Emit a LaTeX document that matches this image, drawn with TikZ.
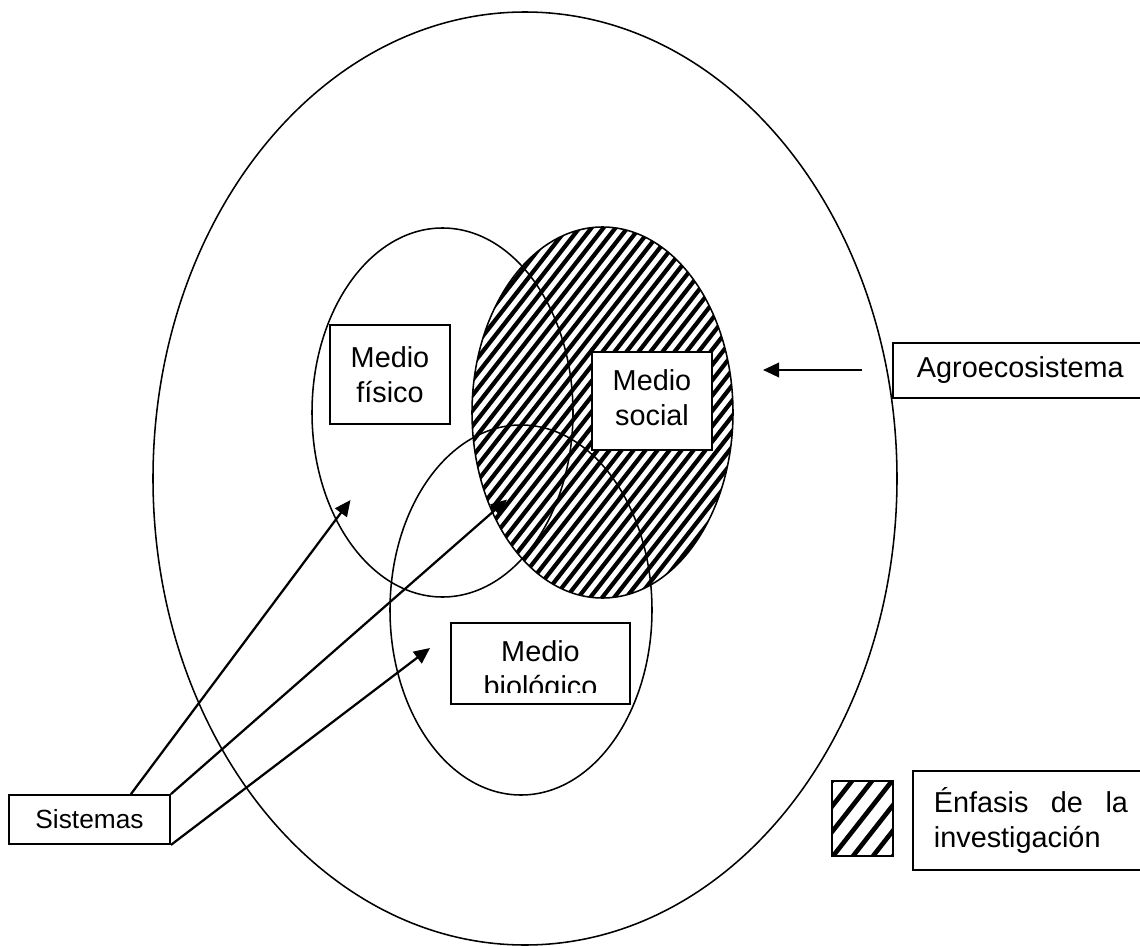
\documentclass[tikz,border=0pt]{standalone}
\usepackage{fontspec}
\setmainfont{Liberation Sans}
\usetikzlibrary{arrows.meta,positioning}

\begin{document}
\begin{tikzpicture}[x=0.025cm,y=-0.025cm,>={Triangle[length=0.4cm,width=0.36cm]},
		medio/.style={draw,line width=1.3pt,fill=white,align=center,inner sep=0pt,font=\fontsize{20.5}{24.9}\selectfont},
		ring/.style={line width=1.1pt},
		flecha/.style={->,line width=1.6pt},
		raya/.style={line width=3pt}]
		\useasboundingbox (0,0) rectangle (1140,946);
		\clip (0,0) rectangle (1140,946);
		\begin{scope}
			\clip (602.5,412.5) ellipse [x radius=130.5, y radius=185.5];
			\foreach \o in {-300,-288,...,300}
				\draw[raya] (602.5+\o-246,412.5+315) -- ++(493,-630);
		\end{scope}
		\draw[ring] (525,478.5) ellipse [x radius=372, y radius=466.5];
		\draw[ring] (442.5,412.5) ellipse [x radius=130.5, y radius=184.5];
		\draw[ring] (602.5,412.5) ellipse [x radius=130.5, y radius=185.5];
		\draw[ring] (521,610) ellipse [x radius=131, y radius=185];
		\node[medio,minimum width=3cm,minimum height=2.475cm] (fis) at (390,374.5) {Medio\\físico};
		\node[medio,minimum width=3cm,minimum height=2.45cm,text depth=0.15cm] (soc) at (652,401) {Medio\\social};
		\node[medio,minimum width=4.475cm,minimum height=2.025cm] (bio) at (540.5,663.5) {};
		\begin{scope}
			\clip (bio.north west) rectangle ([yshift=0.3cm]bio.south east);
			\node[medio,draw=none,fill=none,anchor=north] (biotxt) at (540.5,640) {Medio\\biológico};
		\end{scope}
		\node[medio,minimum width=4.025cm,minimum height=1.225cm,font=\fontsize{18.7}{22}\selectfont] (sis) at (89.5,819.5) {Sistemas};
		\node[medio,anchor=north west,minimum height=1.375cm,text width=5.5cm,inner xsep=0.6cm,align=left] (agro) at (892,342) {Agroecosistema};
		\node[medio,anchor=north west,minimum height=2.475cm,text width=5.15cm,inner xsep=0.525cm,align=left] (enf) at (912,770) {\makebox[4.85cm][l]{Énfasis\hfill de\hfill la}\\investigación};
		\node[draw,line width=0.9pt,minimum width=1.525cm,minimum height=1.875cm,inner sep=0pt] (ley) at (862.5,818.5) {};
		\begin{scope}
			\clip (ley.south west) rectangle (ley.north east);
			\foreach \o in {-100,-80,...,100}
				\draw[raya,line width=3.3pt] (862.5+\o-62,818.5+79) -- ++(124,-158);
		\end{scope}
		\draw[line width=0.9pt] (ley.south west) rectangle (ley.north east);
		\coordinate (tipfis) at (350.5,500);
		\coordinate (tipsoc) at (507,499.5);
		\coordinate (tipbio) at (430,648);
		\coordinate (agroini) at (862,370);
		\coordinate (agrofin) at (763,370);
		\path[flecha]
			([xshift=-1cm]sis.north east) edge (tipfis)
			(sis.north east) edge (tipsoc)
			(sis.south east) edge (tipbio)
			(agroini) edge (agrofin);
	\end{tikzpicture}
\end{document}
